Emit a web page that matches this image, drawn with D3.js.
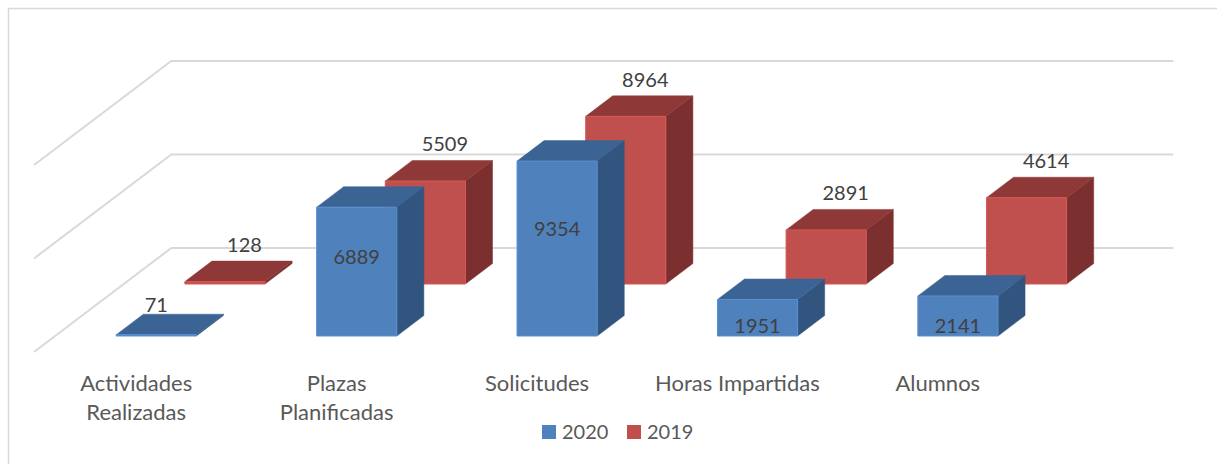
<!DOCTYPE html>
<html>
<head>
<meta charset="utf-8">
<script src="https://cdn.jsdelivr.net/npm/d3@7"></script>
<style>
  body { margin: 0; background: #fff; }
  text { font-family: Lato, "Open Sans", sans-serif; }
</style>
</head>
<body>
<div id="chart"></div>
<script>
const categories = [["Actividades", "Realizadas"], ["Plazas", "Planificadas"], ["Solicitudes"], ["Horas Impartidas"], ["Alumnos"]];
const values2020 = [71, 6889, 9354, 1951, 2141];
const values2019 = [128, 5509, 8964, 2891, 4614];
const gridTicks = [0, 5000, 10000];
const seriesNames = ["2020", "2019"];

const W = 1217, H = 464;
const kx = 1.32;          // x shift per pixel of depth (oblique view)
const wallDepth = 104;    // depth of the floor in px
const barDepth = 20.5;
const rows = [
  {name: "2019", values: values2019, d: 68, front: "#C0504D", top: "#8E3937", side: "#7B2F2E"},
  {name: "2020", values: values2020, d: 16, front: "#4F81BD", top: "#3B6494", side: "#32557F"}
];

const svg = d3.select("#chart").append("svg").attr("width", W).attr("height", H);

// chart border
svg.append("rect").attr("x", 8.5).attr("y", 8.5).attr("width", W + 10).attr("height", H + 10)
  .attr("fill", "none").attr("stroke", "#D9D9D9").attr("stroke-width", 1.5);

const x = d3.scaleBand().domain(d3.range(categories.length)).range([35, 1037])
  .paddingInner(0.6).paddingOuter(0.3);
const y = d3.scaleLinear().domain([0, 10000]).range([352, 165]);

// project world point (px, value, depth) to screen
function P(px, v, d) { return [px + d * kx, y(v) - d]; }
function pts(a) { return a.map(p => p.join(",")).join(" "); }

// gridlines: back wall + side wall
const grid = svg.append("g");
gridTicks.forEach(function (t) {
  const a = P(34, t, 0), b = P(34, t, wallDepth), c = P(1036, t, wallDepth);
  grid.append("polyline").attr("points", pts([a, b, c]))
    .attr("fill", "none").attr("stroke", "#D9D9D9").attr("stroke-width", 2);
});

// bars, back row first
rows.forEach(function (r) {
  const g = svg.append("g");
  r.values.forEach(function (v, i) {
    const x0 = x(i), x1 = x(i) + x.bandwidth();
    const d0 = r.d, d1 = r.d + barDepth;
    // side face
    g.append("polygon").attr("points", pts([P(x1, 0, d0), P(x1, 0, d1), P(x1, v, d1), P(x1, v, d0)]))
      .attr("fill", r.side).attr("stroke", r.side).attr("stroke-width", 0.5);
    // top face
    g.append("polygon").attr("points", pts([P(x0, v, d0), P(x1, v, d0), P(x1, v, d1), P(x0, v, d1)]))
      .attr("fill", r.top).attr("stroke", r.top).attr("stroke-width", 0.5);
    // front face
    g.append("polygon").attr("points", pts([P(x0, 0, d0), P(x1, 0, d0), P(x1, v, d0), P(x0, v, d0)]))
      .attr("fill", r.front).attr("stroke", d3.color(r.front).brighter(0.3)).attr("stroke-width", 1);
  });
});

// data labels
const lab = svg.append("g").attr("font-size", 20).attr("fill", "#404040").attr("text-anchor", "middle");
values2019.forEach(function (v, i) {
  const r = rows[0];
  const cx = x(i) + x.bandwidth() / 2;
  const p = P(cx, v, r.d + barDepth / 2);
  const back = P(cx, v, r.d + barDepth);
  lab.append("text").attr("x", p[0] + 6).attr("y", back[1] - 9).text(v);
});
values2020.forEach(function (v, i) {
  const r = rows[1];
  const cx = x(i) + x.bandwidth() / 2;
  const top = P(cx, v, r.d), bot = P(cx, 0, r.d);
  const h = bot[1] - top[1];
  let ty;
  if (h < 10) ty = top[1] - barDepth - 2;
  else if (h < 60) ty = bot[1] - 3;
  else ty = top[1] + 0.39 * h + 7;
  lab.append("text").attr("x", top[0]).attr("y", ty).text(v);
});

// category labels
const cat = svg.append("g").attr("font-size", 22).attr("fill", "#595959").attr("text-anchor", "middle");
categories.forEach(function (lines, i) {
  const cx = x(i) + x.bandwidth() / 2 + 1;
  const t = cat.append("text").attr("x", cx).attr("y", 391);
  lines.forEach(function (s, k) {
    t.append("tspan").attr("x", cx).attr("y", 391 + k * 29).text(s);
  });
});

// legend
const leg = svg.append("g").attr("font-size", 20).attr("fill", "#595959");
const legItems = [{name: seriesNames[0], color: rows[1].front, x: 542}, {name: seriesNames[1], color: rows[0].front, x: 627}];
legItems.forEach(function (it) {
  leg.append("rect").attr("x", it.x).attr("y", 425).attr("width", 14).attr("height", 14).attr("fill", it.color);
  leg.append("text").attr("x", it.x + 20).attr("y", 439).text(it.name);
});
</script>
</body>
</html>
